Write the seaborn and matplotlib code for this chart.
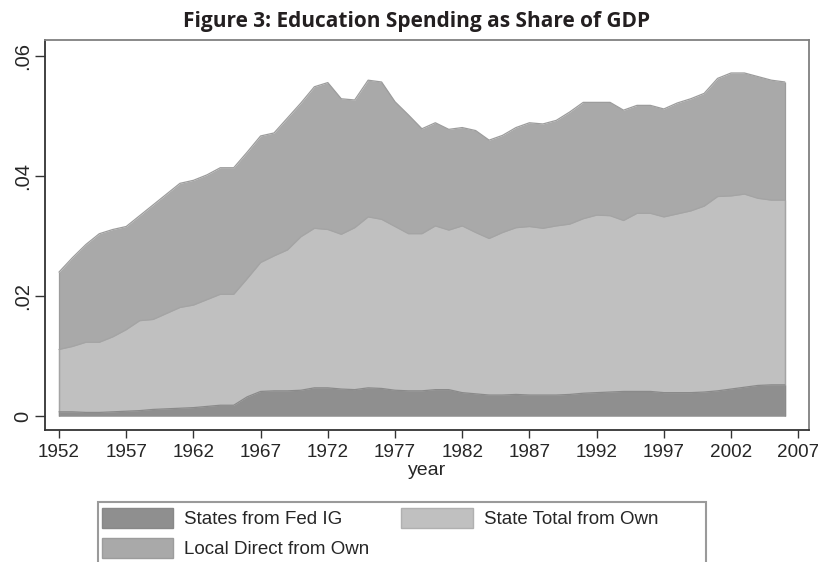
import matplotlib.pyplot as plt
import seaborn as sns
from matplotlib.patches import Patch, Rectangle

# years and stacked shares of GDP (upper edge of each band)
years = list(range(1952, 2007))
fed_ig = [
    0.0007, 0.0007, 0.0006, 0.0006, 0.0007, 0.0008, 0.0009, 0.0011, 0.0012, 0.0013,
    0.0014, 0.0016, 0.0018, 0.0018, 0.0032, 0.0041, 0.0042, 0.0042, 0.0043, 0.0047,
    0.0047, 0.0045, 0.0044, 0.0047, 0.0046, 0.0043, 0.0042, 0.0042, 0.0044, 0.0044,
    0.0039, 0.0037, 0.0035, 0.0035, 0.0036, 0.0035, 0.0035, 0.0035, 0.0036, 0.0038,
    0.0039, 0.0040, 0.0041, 0.0041, 0.0041, 0.0039, 0.0039, 0.0039, 0.0040, 0.0042,
    0.0045, 0.0048, 0.0051, 0.0052, 0.0052,
]
state_total = [
    0.0111, 0.0116, 0.0123, 0.0123, 0.0132, 0.0144, 0.0159, 0.0161, 0.0171, 0.0181,
    0.0185, 0.0194, 0.0203, 0.0203, 0.0229, 0.0256, 0.0267, 0.0277, 0.0299, 0.0313,
    0.0311, 0.0303, 0.0314, 0.0332, 0.0328, 0.0316, 0.0304, 0.0304, 0.0317, 0.0310,
    0.0317, 0.0306, 0.0296, 0.0306, 0.0314, 0.0316, 0.0313, 0.0317, 0.0320, 0.0329,
    0.0335, 0.0334, 0.0326, 0.0338, 0.0338, 0.0332, 0.0337, 0.0342, 0.0350, 0.0366,
    0.0367, 0.0370, 0.0363, 0.0360, 0.0360,
]
local_direct = [
    0.0240, 0.0264, 0.0286, 0.0304, 0.0311, 0.0316, 0.0334, 0.0352, 0.0370, 0.0388,
    0.0393, 0.0402, 0.0414, 0.0414, 0.0440, 0.0467, 0.0472, 0.0497, 0.0522, 0.0549,
    0.0556, 0.0529, 0.0527, 0.0560, 0.0557, 0.0524, 0.0502, 0.0479, 0.0489, 0.0478,
    0.0481, 0.0476, 0.0460, 0.0468, 0.0481, 0.0489, 0.0487, 0.0493, 0.0507, 0.0523,
    0.0523, 0.0523, 0.0510, 0.0518, 0.0518, 0.0512, 0.0522, 0.0529, 0.0538, 0.0563,
    0.0572, 0.0572, 0.0566, 0.0560, 0.0557,
]
x_ticks = list(range(1952, 2008, 5))
y_ticks = [0, 0.02, 0.04, 0.06]
y_labels = ["0", ".02", ".04", ".06"]

sns.set_style("ticks")
plt.rcParams["font.family"] = ["Liberation Sans", "DejaVu Sans"]

fig = plt.figure(figsize=(8.18, 5.62), dpi=100)
ax = fig.add_axes([45 / 818, 132 / 562, 764 / 818, 390 / 562])

layers = [
    (local_direct, "#a9a9a9", "#9c9c9c"),
    (state_total, "#c0c0c0", "#a4a4a4"),
    (fed_ig, "#8f8f8f", "#8a8a8a"),
]
for vals, fill, edge in layers:
    ax.fill_between(years, 0, vals, color=fill, lw=0)
    sns.lineplot(x=years, y=vals, color=edge, lw=0.9, ax=ax)
    ax.vlines([years[0], years[-1]], 0, [vals[0], vals[-1]], color=edge, lw=0.9)

ax.set_xlim(1950.96, 2007.8)
ax.set_ylim(-0.00233, 0.0627)
ax.set_xticks(x_ticks)
ax.set_xticklabels([str(t) for t in x_ticks], fontsize=13.6)
ax.set_yticks(y_ticks)
ax.set_yticklabels(y_labels, fontsize=14.5, rotation=90, va="center")
ax.tick_params(axis="x", length=6, width=1, pad=4, color="#333333")
ax.tick_params(axis="y", length=7, width=1, pad=2.5, color="#333333")
ax.set_xlabel("year", fontsize=14, labelpad=1)
ax.set_ylabel("")

for side in ["left", "bottom"]:
    ax.spines[side].set_color("#333333")
    ax.spines[side].set_linewidth(1.3)
for side in ["top", "right"]:
    ax.spines[side].set_visible(True)
    ax.spines[side].set_color("#808080")
    ax.spines[side].set_linewidth(1.3)

fig.text(417 / 818, 1 - 21 / 562, "Figure 3: Education Spending as Share of GDP",
         ha="center", va="center", fontsize=15, fontweight="bold",
         family=["Open Sans", "DejaVu Sans"], color="#231f20")

handles = [Patch(facecolor="#8f8f8f", edgecolor="#888888"),
           Patch(facecolor="#a9a9a9", edgecolor="#9c9c9c"),
           Patch(facecolor="#c0c0c0", edgecolor="#b0b0b0")]
labels = ["States from Fed IG", "Local Direct from Own", "State Total from Own"]
fig.legend(handles, labels, loc="upper left", bbox_to_anchor=(98 / 818, 1 - 504 / 562),
           ncol=2, fontsize=13.5, frameon=False,
           handlelength=3.8, handleheight=1.25, handletextpad=0.6,
           columnspacing=1.7, labelspacing=0.55, borderpad=0.2,
           borderaxespad=0)
# legend frame runs past the bottom edge, as in the cropped original
fig.patches.append(Rectangle((98 / 818, -0.1), 608 / 818, 0.1 + 60 / 562,
                             transform=fig.transFigure, fill=False,
                             edgecolor="#9a9a9a", lw=1.5))

fig.savefig("out.png", dpi=100, facecolor="white")
